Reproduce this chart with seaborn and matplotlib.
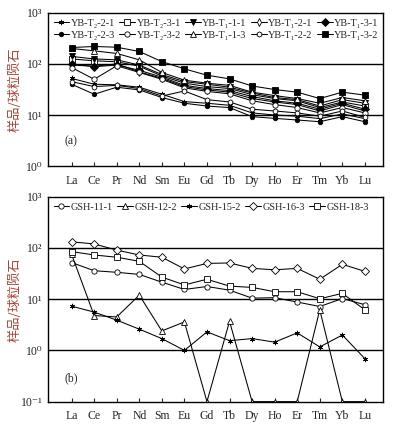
import numpy as np
import matplotlib
matplotlib.use('Agg')
import matplotlib.pyplot as plt
import seaborn as sns
import pandas as pd

# REE order on the x axis
elements = ['La', 'Ce', 'Pr', 'Nd', 'Sm', 'Eu', 'Gd', 'Tb', 'Dy', 'Ho', 'Er', 'Tm', 'Yb', 'Lu']

# panel (a) - chondrite normalised values
yb_t2_2_1 = [52, 40, 39, 35, 25.5, 18.3, 17, 15.5, 11, 10, 9.5, 8.5, 10.5, 8.5]
yb_t2_3_1 = [125, 115, 110, 90, 58, 42, 36, 33, 25, 21, 19, 14, 18, 15]
yb_t1_1_1 = [140, 125, 120, 95, 62, 45, 40, 35, 27, 22, 20, 15, 20, 17]
yb_t1_2_1 = [95, 90, 100, 70, 52, 36, 31, 28, 21, 18, 16, 12, 16, 12]
yb_t1_3_1 = [100, 88, 95, 75, 55, 38, 33, 30, 23, 19, 17, 13, 17, 13]
yb_t2_2_3 = [40, 25.5, 35, 31, 22, 17, 15, 14, 9.3, 8.6, 8, 7.4, 9.3, 7.4]
yb_t2_3_2 = [85, 50, 92, 68, 50, 34, 29, 26, 19, 16, 14, 11, 14, 11]
yb_t1_1_3 = [200, 180, 160, 120, 68, 48, 42, 38, 28, 24, 21, 17, 22, 19]
yb_t1_2_2 = [45, 36, 38, 33, 23.5, 29.5, 20, 18, 13, 12, 11, 9.5, 12, 9]
yb_t1_3_2 = [209, 219, 212, 175, 111, 80, 60, 51, 37, 31.5, 28, 21, 28, 24.5]

# panel (b)
gsh_11_1 = [52, 36, 33.5, 30.5, 21.5, 15.5, 17.7, 15, 10.5, 10.7, 8.8, 7.2, 10.3, 7.8]
gsh_12_2 = [75, 4.8, 4.5, 12, 2.4, 3.6, 0.1, 3.7, 0.1, 0.1, 0.1, 6.2, 0.1, 0.1]
gsh_15_2 = [7.3, 5.6, 3.9, 2.6, 1.7, 1.0, 2.3, 1.55, 1.7, 1.45, 2.2, 1.17, 2.0, 0.69]
gsh_16_3 = [132, 120, 91, 73, 66, 39, 50, 51, 40, 37.5, 40, 24.5, 48, 35]
gsh_18_3 = [85, 73, 66, 55, 27, 19, 24.5, 18, 17, 14, 14, 10.2, 13, 6.2]

series_a = [
    ('YB-T₂-2-1', yb_t2_2_1), ('YB-T₂-3-1', yb_t2_3_1), ('YB-T₁-1-1', yb_t1_1_1),
    ('YB-T₁-2-1', yb_t1_2_1), ('YB-T₁-3-1', yb_t1_3_1),
    ('YB-T₂-2-3', yb_t2_2_3), ('YB-T₂-3-2', yb_t2_3_2), ('YB-T₁-1-3', yb_t1_1_3),
    ('YB-T₁-2-2', yb_t1_2_2), ('YB-T₁-3-2', yb_t1_3_2),
]
markers_a = [((6, 2, 0), 'black'), ('s', 'white'), ('v', 'black'), ('d', 'white'), ('D', 'black'),
             ('o', 'black'), ('o', 'white'), ('^', 'white'), ('h', 'white'), ('s', 'black')]

series_b = [('GSH-11-1', gsh_11_1), ('GSH-12-2', gsh_12_2), ('GSH-15-2', gsh_15_2),
            ('GSH-16-3', gsh_16_3), ('GSH-18-3', gsh_18_3)]
markers_b = [('o', 'white'), ('^', 'white'), ((6, 2, 0), 'black'), ('D', 'white'), ('s', 'white')]

sns.set_style('ticks')
plt.rcParams['font.family'] = ['Liberation Serif', 'DejaVu Serif']
plt.rcParams['axes.linewidth'] = 1.0

fig = plt.figure(figsize=(3.96, 4.25), dpi=100)
ax_a = fig.add_axes([0.121, 0.609, 0.846, 0.361])
ax_b = fig.add_axes([0.121, 0.055, 0.846, 0.482])


def draw(ax, series, markers, ymin, label):
    for (name, vals), (mk, fc) in zip(series, markers):
        df = pd.DataFrame({'el': elements, 'v': vals})
        ms = 3.2 if mk in ('o',) and fc == 'black' else 3.8
        sns.lineplot(data=df, x='el', y='v', ax=ax, color='black', lw=0.75,
                     marker=mk, markersize=ms, markerfacecolor=fc,
                     markeredgecolor='black', markeredgewidth=0.6, label=name, sort=False)
    ax.set_yscale('log')
    ax.set_ylim(ymin, 1000)
    ax.set_xlim(-1.05, 13.8)
    exps = range(int(np.log10(ymin)), 4)
    ticks = [10.0 ** e for e in exps]
    sup = {'-': '⁻', '0': '⁰', '1': '¹', '2': '²', '3': '³'}
    ax.set_yticks(ticks)
    ax.set_yticklabels(['10' + ''.join(sup[c] for c in str(e)) for e in exps], fontsize=8.5)
    ax.yaxis.set_minor_locator(matplotlib.ticker.NullLocator())
    for t in ticks[1:-1]:
        ax.axhline(t, color='black', lw=1.0, zorder=0)
    ax.tick_params(axis='y', length=0, pad=4)
    ax.tick_params(axis='x', direction='in', length=3, width=0.8, labelsize=8.5, pad=6)
    ax.set_xlabel('')
    ax.set_ylabel('')
    ax.text(0.05, 0.14 if ymin == 1 else 0.1, label, transform=ax.transAxes, fontsize=8.5)
    handles, labels = ax.get_legend_handles_labels()
    n = len(handles)
    if n > 5:
        # row-wise ordering for a 2 x 5 legend
        order = [i + r * 5 for i in range(5) for r in range(n // 5)]
        handles = [handles[i] for i in order]
        labels = [labels[i] for i in order]
    ax.legend(handles, labels, loc='upper left', ncol=5, frameon=False, fontsize=7.4,
              handlelength=1.5, handletextpad=0.15, columnspacing=0.45,
              labelspacing=0.3, borderaxespad=0.15, bbox_to_anchor=(0.0, 1.0))
    for s in ax.spines.values():
        s.set_visible(True)
        s.set_color('black')


draw(ax_a, series_a, markers_a, 1, '(a)')
draw(ax_b, series_b, markers_b, 0.1, '(b)')

for ax, yc in ((ax_a, 0.79), (ax_b, 0.295)):
    fig.text(0.038, yc, '样品/球粒陨石', rotation=90, va='center', ha='center',
             fontsize=9.5, color='#a0483a', family=['Noto Sans CJK SC', 'DejaVu Sans'])

fig.savefig('out.png', dpi=100)
